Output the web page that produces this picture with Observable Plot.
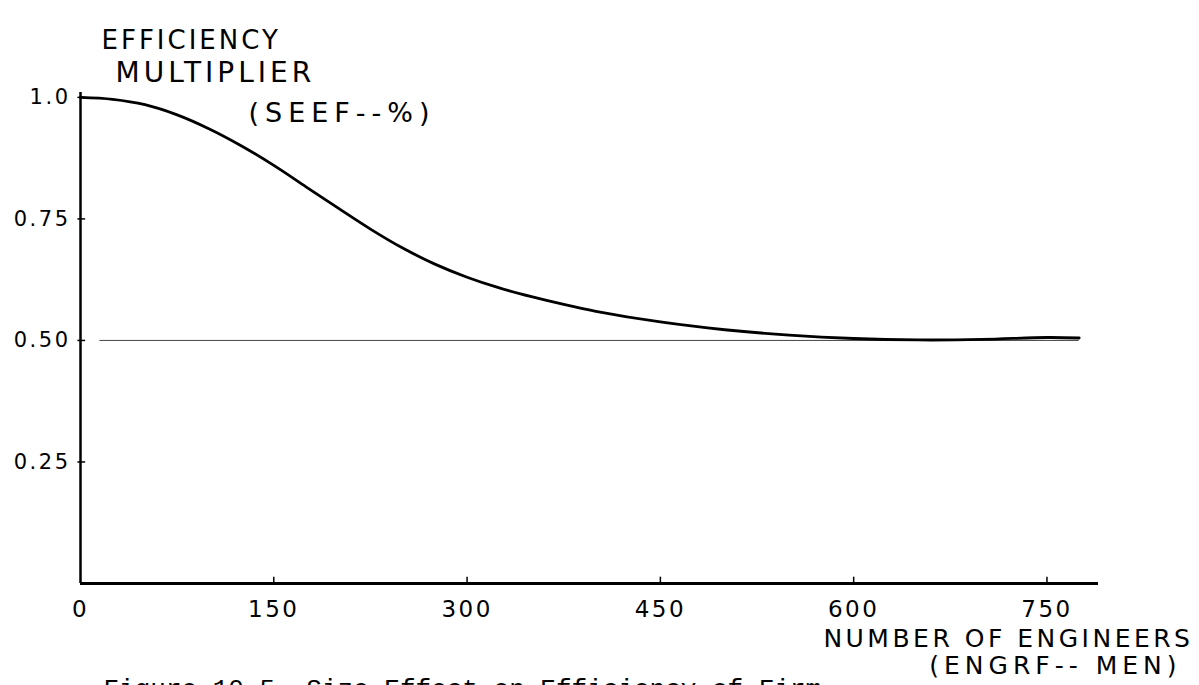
<!DOCTYPE html>
<html>
<head>
<meta charset="utf-8">
<script src="https://cdn.jsdelivr.net/npm/d3@7"></script>
<script src="https://cdn.jsdelivr.net/npm/@observablehq/plot@0.6"></script>
<style>
  html, body { margin: 0; padding: 0; background: #fff; }
  #chart svg { display: block; }
</style>
</head>
<body>
<div id="chart"></div>
<script>
// Data
const engineers  = [0, 25, 50, 75, 100, 125, 150, 175, 200, 225, 250, 275, 300, 325, 350, 375, 400, 450, 500, 550, 600, 650, 700, 750, 775];
const efficiency = [1.000, 0.996, 0.985, 0.964, 0.935, 0.900, 0.860, 0.816, 0.772, 0.729, 0.690, 0.657, 0.630, 0.608, 0.590, 0.574, 0.560, 0.538, 0.522, 0.511, 0.504, 0.501, 0.502, 0.506, 0.505];

const xTicks = [0, 150, 300, 450, 600, 750];
const xTickLabels = ["0", "150", "300", "450", "600", "750"];
const yTicks = [0.25, 0.5, 0.75, 1.0];
const yTickLabels = ["0.25", "0.50", "0.75", "1.0"];
const refLevel = [0.5];
const refFrom = 15, refTo = 775;

const yTitle = ["EFFICIENCY", "MULTIPLIER", "(SEEF--%)"];
const xTitle = ["NUMBER OF ENGINEERS", "(ENGRF-- MEN)"];
const caption = "Figure 10-5. Size Effect on Efficiency of Firm";

const data = engineers.map((x, i) => ({x, y: efficiency[i]}));
const hand = "DejaVu Sans";

const chart = Plot.plot({
  width: 1199,
  height: 685,
  marginLeft: 80,
  marginRight: 101,
  marginTop: 92,
  marginBottom: 102,
  x: {domain: [0, 790], axis: null},
  y: {domain: [0, 1.01], axis: null},
  style: {fontFamily: hand, background: "#fff", color: "#000"},
  marks: [
    Plot.ruleY(refLevel, {x1: refFrom, x2: refTo, stroke: "#444", strokeWidth: 1}),
    Plot.ruleY([0], {stroke: "#000", strokeWidth: 3}),
    Plot.ruleX([0], {stroke: "#000", strokeWidth: 2.5}),
    Plot.ruleX(xTicks.slice(1), {y1: -0.004, y2: 0.013, stroke: "#000", strokeWidth: 1.5}),
    Plot.ruleY(yTicks, {x1: -2, x2: 4, stroke: "#000", strokeWidth: 1.5}),
    Plot.line(data, {x: "x", y: "y", curve: "catmull-rom", stroke: "#000", strokeWidth: 2.8}),
    Plot.text(xTicks, {x: d => d, y: 0, text: (d, i) => xTickLabels[i], dy: 26, fontSize: 23, fill: "#000"}),
    Plot.text(yTicks, {x: 0, y: d => d, text: (d, i) => yTickLabels[i], textAnchor: "end", dx: -10, fontSize: 21, fill: "#000"}),
    Plot.text([yTitle[0]], {frameAnchor: "top-left", text: d => d, textAnchor: "start", dx: 21, dy: -62, fontSize: 26, fill: "#000"}),
    Plot.text([yTitle[1]], {frameAnchor: "top-left", text: d => d, textAnchor: "start", dx: 35, dy: -30, fontSize: 28, fill: "#000"}),
    Plot.text([yTitle[2]], {frameAnchor: "top-left", text: d => d, textAnchor: "start", dx: 168, dy: 10, fontSize: 27, fill: "#000"}),
    Plot.text([xTitle[0]], {frameAnchor: "bottom-right", text: d => d, textAnchor: "end", dx: 95, dy: 63, fontSize: 25, fill: "#000"}),
    Plot.text([xTitle[1]], {frameAnchor: "bottom-right", text: d => d, textAnchor: "end", dx: 83, dy: 90, fontSize: 25, fill: "#000"}),
    Plot.text([caption], {frameAnchor: "bottom-left", text: d => d, textAnchor: "start", lineAnchor: "top", dx: 23, dy: 95, fontSize: 26, fontFamily: "Liberation Mono", fill: "#000"})
  ]
});

// hand-lettering feel: wide letter spacing per text
const spacing = new Map([
  ["EFFICIENCY", 3], ["MULTIPLIER", 4], ["(SEEF--%)", 6],
  ["NUMBER OF ENGINEERS", 3.5], ["(ENGRF-- MEN)", 5], [caption, 0]
]);
d3.select(chart).selectAll("text").each(function() {
  const t = this.textContent;
  const s = spacing.has(t) ? spacing.get(t) : 2.5;
  d3.select(this).attr("letter-spacing", s + "px");
});
document.getElementById("chart").appendChild(chart);
</script>
</body>
</html>
